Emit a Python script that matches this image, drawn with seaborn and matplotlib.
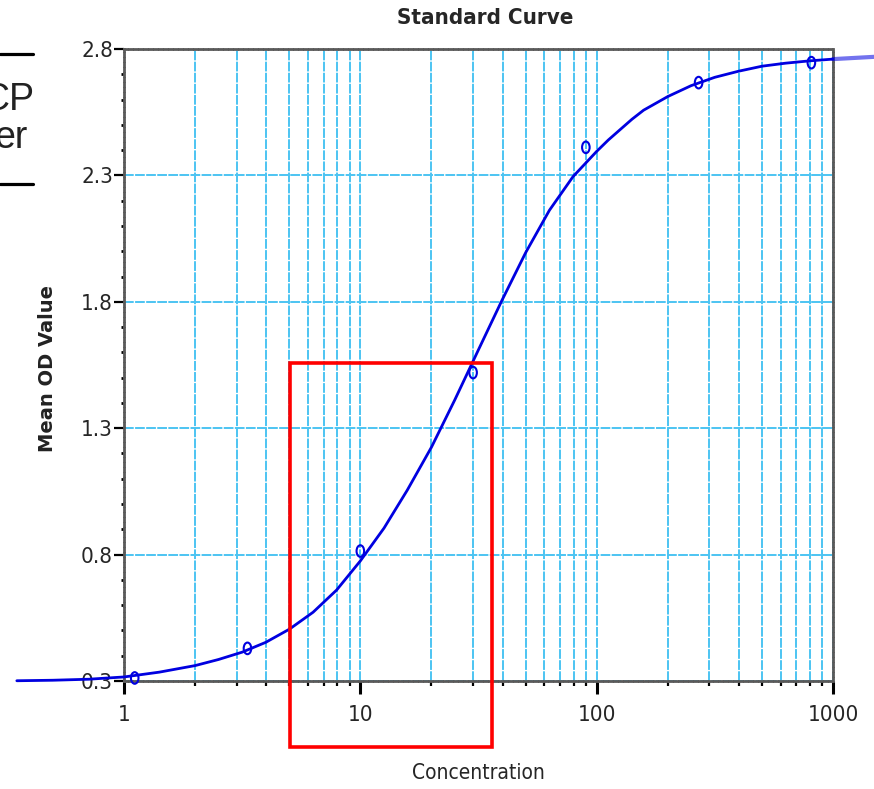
import numpy as np
import matplotlib
matplotlib.use('Agg')
import matplotlib.pyplot as plt
import matplotlib.ticker as mticker
from matplotlib import font_manager as fm
from matplotlib.path import Path
from matplotlib.transforms import Affine2D
from matplotlib.patches import Rectangle
from matplotlib.lines import Line2D
import seaborn as sns

sns.set_style('white')

# use a condensed face if one is installed, else plain Liberation Sans
cond = fm.FontProperties(family='DejaVu Sans', stretch='condensed')
if 'Condensed' in fm.findfont(cond, fallback_to_default=True):
    plt.rcParams['font.family'] = ['DejaVu Sans']
    plt.rcParams['font.stretch'] = 'condensed'
else:
    plt.rcParams['font.family'] = ['Liberation Sans', 'DejaVu Sans']

# standards (concentration, mean OD)
conc = [1.11, 3.33, 10, 30, 90, 270, 810]
mean_od = [0.312, 0.429, 0.814, 1.52, 2.411, 2.667, 2.746]

# fitted curve
curve_conc = [0.352, 0.5, 0.708, 1.0, 1.41, 2.0, 2.51, 3.16, 3.98, 5.01, 6.31, 7.94,
              10.0, 12.6, 15.8, 20.0, 25.1, 31.6, 39.8, 50.1, 63.1, 79.4, 89.1, 100,
              112, 126, 141, 158, 200, 251, 316, 398, 501, 631, 794, 1000]
curve_od = [0.301, 0.303, 0.307, 0.316, 0.335, 0.361, 0.385, 0.414, 0.453, 0.505, 0.572,
            0.66, 0.775, 0.905, 1.055, 1.225, 1.412, 1.61, 1.807, 1.995, 2.162, 2.295,
            2.345, 2.395, 2.44, 2.482, 2.522, 2.558, 2.612, 2.655, 2.688, 2.712, 2.732,
            2.744, 2.753, 2.760]
tail_conc = [1000, 1493]
tail_od = [2.760, 2.769]

y_ticks = [0.3, 0.8, 1.3, 1.8, 2.3, 2.8]
x_ticks = [1, 10, 100, 1000]

# highlighted region (data coords)
box_x = (5.04, 36.1)
box_y = (0.039, 1.558)

W, H = 874, 789
fig = plt.figure(figsize=(W / 100, H / 100), dpi=100)
ax = fig.add_axes([124 / W, 1 - 681 / H, (833 - 124) / W, (681 - 49) / H])

blue = '#0000E0'
sns.lineplot(x=curve_conc, y=curve_od, ax=ax, color=blue, lw=2.0, clip_on=False, zorder=4)
sns.lineplot(x=tail_conc, y=tail_od, ax=ax, color=blue, lw=3.0, alpha=0.55, clip_on=False, zorder=4)

ell = Path.unit_circle().transformed(Affine2D().scale(0.65, 1.0))
sns.scatterplot(x=conc, y=mean_od, ax=ax, marker=ell, s=70, facecolor='none',
                edgecolor=blue, linewidth=1.5, zorder=5, clip_on=False)

ax.set_xscale('log')
ax.set_xlim(1, 1000)
ax.set_ylim(0.3, 2.8)
ax.set_xticks(x_ticks)
ax.xaxis.set_major_formatter(mticker.FuncFormatter(lambda v, p: '%g' % v))
ax.xaxis.set_minor_locator(mticker.LogLocator(base=10, subs=np.arange(2, 10)))
ax.xaxis.set_minor_formatter(mticker.NullFormatter())
ax.set_yticks(y_ticks)
ax.yaxis.set_major_formatter(mticker.FuncFormatter(lambda v, p: '%.1f' % v))
ax.yaxis.set_minor_locator(mticker.MultipleLocator(0.1))

grid_kw = dict(color='#4CC4F2', lw=1.4, linestyle=(0, (5, 0.7)))
ax.grid(True, which='both', axis='x', **grid_kw)
ax.grid(True, which='major', axis='y', **grid_kw)
ax.set_axisbelow(True)

for sp in ax.spines.values():
    sp.set_visible(True)
    sp.set_color('#5a5a5a')
    sp.set_linestyle((0, (1, 0.8)))
    sp.set_linewidth(2.0)

ax.tick_params(axis='x', which='major', direction='out', length=9, width=2.2,
               color='black', pad=8, labelsize=16, bottom=True)
ax.tick_params(axis='x', which='minor', direction='out', length=3.5, width=1.6,
               color='black', bottom=True)
ax.tick_params(axis='y', which='major', direction='out', length=7, width=1.6,
               color='black', pad=1, labelsize=16, left=True)
ax.tick_params(axis='y', which='minor', direction='out', length=2, width=2,
               color='black', left=True)
ax.set_xlabel('')
ax.set_ylabel('')

ax.add_patch(Rectangle((box_x[0], box_y[0]), box_x[1] - box_x[0], box_y[1] - box_y[0],
                       fill=False, ec='#FF0000', lw=2.6, clip_on=False, zorder=6))

fig.text(485 / W, 1 - 18 / H, 'Standard Curve', ha='center', va='center',
         fontsize=16, fontweight='bold')
fig.text(478 / W, 1 - 773 / H, 'Concentration', ha='center', va='center', fontsize=15)
fig.text(47.5 / W, 1 - 368 / H, 'Mean OD Value', ha='center', va='center', rotation=90,
         fontsize=14, fontweight='bold', color='#222222', family=['DejaVu Sans'],
         fontstretch='normal')

# fragment of neighbouring content at top-left
fig.text(34 / W, 1 - 110 / H, 'CP', ha='right', va='baseline', fontsize=27,
         color='#222222', family=['Liberation Sans', 'DejaVu Sans'], fontstretch='normal')
fig.text(28 / W, 1 - 148 / H, 'er', ha='right', va='baseline', fontsize=27,
         color='#222222', family=['Liberation Sans', 'DejaVu Sans'], fontstretch='normal')
for yy in (53.5, 183.5):
    fig.add_artist(Line2D([0, 33 / W], [1 - yy / H] * 2, color='black', lw=2.3))

fig.savefig('out.png', dpi=100)
